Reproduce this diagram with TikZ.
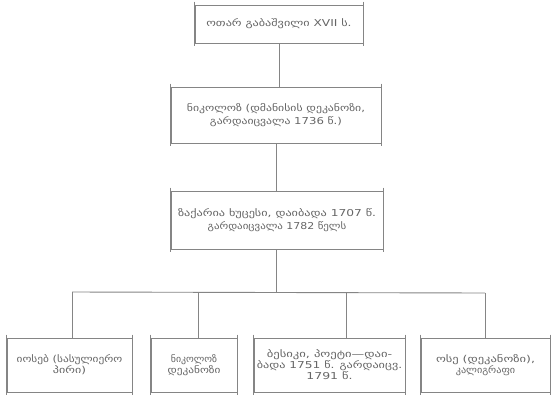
\documentclass[tikz,border=0pt]{standalone}
\usepackage{fontspec}
\usepackage{graphicx}
\setmainfont{DejaVu Sans}
\definecolor{linegray}{HTML}{858585}
\definecolor{txtgray}{HTML}{666666}
\newlength\mlw
% one typewriter-like line: n characters at a fixed pitch
\newcommand\ml[2]{\setlength\mlw{6.6pt}\mlw=#1\mlw\resizebox{\mlw}{\height}{#2}}
\begin{document}
\begin{tikzpicture}[x=1pt,y=-1pt,
  box/.style={draw=linegray, line width=0.9pt, text=txtgray, align=center,
    inner sep=0pt, font=\fontsize{9.5}{12.5}\selectfont},
  lowbox/.style={box, minimum height=54pt, font=\fontsize{9.5}{11}\selectfont},
  conn/.style={draw=linegray, line width=0.9pt}]
\useasboundingbox[fill=white] (0,0) rectangle (551,394);
\node[box, minimum width=168pt, minimum height=38pt] (otar) at (279,24) {\ml{22}{ოთარ გაბაშვილი XVII ს.}};
\node[box, minimum width=210pt, minimum height=56pt] (nik1) at (276,115) {\ml{27}{ნიკოლოზ (დმანისის დეკანოზი,}\\\ml{20}{გარდაიცვალა 1736 წ.)}};
\node[box, minimum width=212pt, minimum height=58pt] (zaq) at (277,220) {\ml{30}{ზაქარია ხუცესი, დაიბადა 1707 წ.}\\\ml{21}{გარდაიცვალა 1782 წელს}};
\node[lowbox, minimum width=125pt] (ios) at (69.5,365) {\ml{16}{იოსებ (სასულიერო}\\\ml{5}{პირი)}};
\node[lowbox, minimum width=86pt] (nik2) at (194,365) {\ml{7}{ნიკოლოზ}\\\ml{8}{დეკანოზი}};
\node[lowbox, minimum width=151pt] (bes) at (329.5,365) {\ml{19}{ბესიკი, პოეტი—დაი-}\\\ml{22}{ბადა 1751 წ. გარდაიცვ.}\\\ml{7}{1791 წ.}};
\node[lowbox, minimum width=129pt] (ose) at (485.5,365) {\ml{15}{ოსე (დეკანოზი),}\\\ml{9}{კალიგრაფი}};
% slightly overshooting vertical sides, as in the typed original
\foreach \b in {otar,nik1,zaq,ios,nik2,bes,ose}{
  \draw[conn] ([yshift=3pt]\b.north west) -- ([yshift=-3pt]\b.south west);
  \draw[conn] ([yshift=3pt]\b.north east) -- ([yshift=-3pt]\b.south east);
}
\coordinate (barL) at (72,292);
\coordinate (barR) at (485,293);
\coordinate (mid) at (276,292.5);
\coordinate (dA) at (72,292);
\coordinate (dB) at (198,292);
\coordinate (dC) at (346,293);
\coordinate (dD) at (485,293);
\draw[conn] (otar.south) -- (otar.south |- nik1.north);
\draw[conn] (nik1.south) -- (nik1.south |- zaq.north);
\draw[conn] (zaq.south -| mid) -- (mid);
\draw[conn] (barL) -- (barR);
\draw[conn] (dA) -- (dA |- ios.north);
\draw[conn] (dB) -- (dB |- nik2.north);
\draw[conn] (dC) -- (dC |- bes.north);
\draw[conn] (dD) -- (dD |- ose.north);
\end{tikzpicture}
\end{document}
